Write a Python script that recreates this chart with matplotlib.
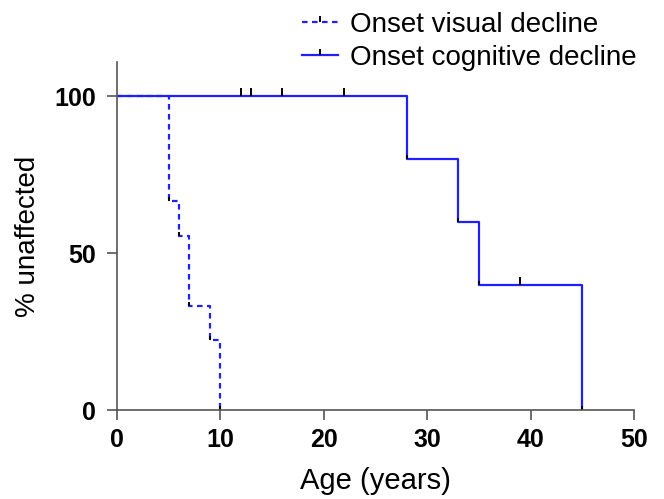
import matplotlib
matplotlib.use("Agg")
import matplotlib.pyplot as plt
from matplotlib.path import Path
from matplotlib.lines import Line2D
import numpy as np

plt.rcParams['font.family'] = ['Liberation Sans', 'DejaVu Sans']

# Visual decline (Kaplan-Meier steps)
vis_times = [0, 5, 6, 7, 9, 10]
vis_surv = [100, 66.67, 55.56, 33.33, 22.22, 0]

# Cognitive decline
cog_times = [0, 28, 33, 35, 45]
cog_surv = [100, 80, 60, 40, 0]
cog_censor_t = [12, 13, 16, 22, 39]
cog_censor_s = [100, 100, 100, 100, 40]

xticks = [0, 10, 20, 30, 40, 50]
yticks = [0, 50, 100]

blue = '#1f1fff'
up_tick = Path([(0, 0), (0, 1)], [Path.MOVETO, Path.LINETO])

fig = plt.figure(figsize=(6.64, 4.99), dpi=100)
ax = fig.add_axes([117/664, 1 - 410/499, (634-117)/664, (410-62)/499])

ax.step(vis_times, vis_surv, where='post', color=blue, lw=1.6, ls=(0, (2.5, 2.0)))
ax.step(cog_times, cog_surv, where='post', color=blue, lw=1.6)

# small black marks at each drop
ax.plot(vis_times[1:], vis_surv[1:], ls='none', marker=up_tick, ms=6, mec='black', mew=1.4)
ax.plot(cog_times[1:], cog_surv[1:], ls='none', marker=up_tick, ms=6, mec='black', mew=1.4)
# censor ticks
ax.plot(cog_censor_t, cog_censor_s, ls='none', marker=up_tick, ms=11, mec='black', mew=1.4)

ax.set_xlim(0, 50)
ax.set_ylim(0, 111)
ax.set_xticks(xticks)
ax.set_yticks(yticks)
ax.tick_params(axis='both', direction='out', length=7, width=1.2, color='#555555',
               labelsize=18)
ax.tick_params(axis='y', pad=8)
ax.tick_params(axis='x', pad=6)
for lab in ax.get_xticklabels() + ax.get_yticklabels():
    lab.set_fontweight('bold')
for s in ['top', 'right']:
    ax.spines[s].set_visible(False)
for s in ['left', 'bottom']:
    ax.spines[s].set_color('#555555')
    ax.spines[s].set_linewidth(1.2)

ax.set_xlabel('Age (years)', fontsize=21, labelpad=11)
ax.set_ylabel('% unaffected', fontsize=20, labelpad=10)

handles = [
    Line2D([0], [0], color=blue, lw=1.6, ls=(0, (2.5, 2.0)), marker=up_tick, ms=8, mec='black', mew=1.4),
    Line2D([0], [0], color=blue, lw=1.6, marker=up_tick, ms=8, mec='black', mew=1.4),
]
fig.legend(handles, ['Onset visual decline', 'Onset cognitive decline'],
           loc='upper left', bbox_to_anchor=(302/664, 1 - 12/499), frameon=False,
           fontsize=20, handlelength=1.3, handletextpad=0.43, labelspacing=0.25,
           numpoints=1, borderaxespad=0.0, borderpad=0.0)

fig.savefig('out.png', dpi=100)
